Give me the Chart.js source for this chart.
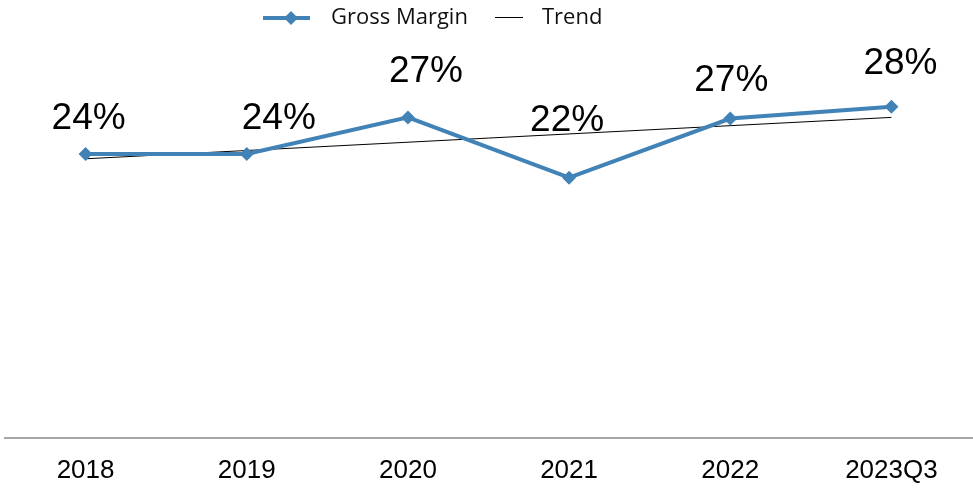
<!DOCTYPE html>
<html>
<head>
<meta charset="utf-8">
<script src="https://cdn.jsdelivr.net/npm/chart.js@4"></script>
<style>
  html, body { margin: 0; padding: 0; background: #fff; overflow: hidden; }
  canvas { display: block; }
</style>
</head>
<body>
<canvas id="marginChart" width="973" height="491"></canvas>
<script>
let years = ['2018', '2019', '2020', '2021', '2022', '2023Q3'];
let grossMargin = [24.0, 24.0, 27.1, 22.0, 27.0, 28.0];
let trend = [23.6, null, null, null, null, 27.1];

let blue = 'rgb(65, 131, 183)';

// value labels sit above each point, nudged like the original
let valueLabels = {
    id: 'valueLabels',
    afterDatasetsDraw(chart, args, opts) {
        let c = chart.ctx;
        let meta = chart.getDatasetMeta(0);
        c.save();
        c.font = '37px "Liberation Sans", Arial, sans-serif';
        c.fillStyle = '#000';
        c.textAlign = 'center';
        c.textBaseline = 'alphabetic';
        meta.data.forEach((pt, i) => {
            let off = opts.offsets[i];
            c.fillText(Math.round(grossMargin[i]) + '%', pt.x + off[0], pt.y + off[1]);
        });
        c.restore();
    }
};

let topLegend = {
    id: 'topLegend',
    afterDraw(chart) {
        let c = chart.ctx;
        c.save();
        // Gross Margin entry
        c.strokeStyle = blue;
        c.lineWidth = 4;
        c.beginPath();
        c.moveTo(263, 18);
        c.lineTo(310, 18);
        c.stroke();
        c.fillStyle = blue;
        c.beginPath();
        c.moveTo(291, 11);
        c.lineTo(298, 18);
        c.lineTo(291, 25);
        c.lineTo(284, 18);
        c.closePath();
        c.fill();
        // Trend entry
        c.strokeStyle = '#000';
        c.lineWidth = 1;
        c.beginPath();
        c.moveTo(495, 17.5);
        c.lineTo(523, 17.5);
        c.stroke();
        c.font = '22px "Open Sans", sans-serif';
        c.fillStyle = '#111';
        c.textBaseline = 'middle';
        c.fillText('Gross Margin', 331, 18);
        c.fillText('Trend', 542, 18);
        c.restore();
    }
};

let marginChart = new Chart(document.getElementById('marginChart'), {
    type: 'line',
    data: {
        labels: years,
        datasets: [
            {
                label: 'Gross Margin',
                data: grossMargin,
                borderColor: blue,
                backgroundColor: blue,
                borderWidth: 4,
                pointStyle: 'rectRot',
                pointRadius: 7,
                pointBorderWidth: 0,
                pointBackgroundColor: blue,
                fill: false,
                tension: 0,
                order: 1
            },
            {
                label: 'Trend',
                data: trend,
                borderColor: '#000',
                borderWidth: 1,
                pointRadius: 0,
                spanGaps: true,
                fill: false,
                tension: 0,
                order: 2
            }
        ]
    },
    options: {
        responsive: false,
        animation: false,
        layout: { autoPadding: false, padding: { top: 24, left: 5, right: 1, bottom: -12 } },
        plugins: {
            legend: { display: false },
            tooltip: { enabled: false },
            valueLabels: {
                offsets: [[3, -25], [32, -25], [18, -35], [-2, -47], [1, -28], [9, -33]]
            }
        },
        scales: {
            x: {
                offset: true,
                grid: { display: false, drawTicks: false },
                border: { display: true, color: '#a6a6a6', width: 2 },
                ticks: {
                    color: '#000',
                    padding: 17,
                    font: { family: '"Liberation Sans", Arial, sans-serif', size: 26 }
                }
            },
            y: {
                display: false,
                min: 0,
                max: 35
            }
        }
    },
    plugins: [valueLabels, topLegend]
});
</script>
</body>
</html>
